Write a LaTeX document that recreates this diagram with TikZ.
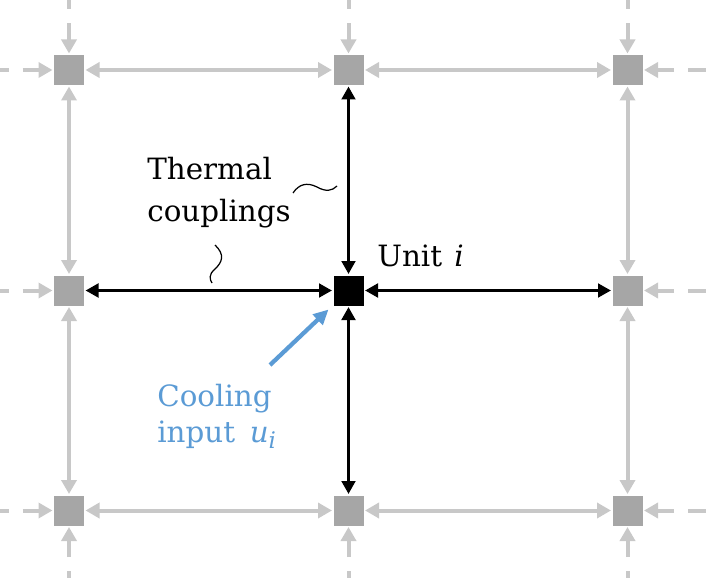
\documentclass[tikz,border=0pt]{standalone}
\usepackage{fontspec}
\setmainfont{DejaVu Serif}
\usepackage{tikz}
\usetikzlibrary{arrows.meta,positioning}
\usepackage{xcolor}
\definecolor{cellgray}{HTML}{A6A6A6}
\definecolor{linkgray}{HTML}{C8C8C8}
\definecolor{coolblue}{HTML}{5B9BD5}

\begin{document}
\begin{tikzpicture}[
    cell/.style={rectangle, fill=cellgray, minimum size=0.6cm, inner sep=0pt,
                 outer sep=0.03cm},
    unitcell/.style={cell, fill=black},
    graylink/.style={{Triangle[length=0.28cm,width=0.30cm]}-{Triangle[length=0.28cm,width=0.30cm]},
                     line width=0.08cm, color=linkgray},
    blacklink/.style={{Triangle[length=0.26cm,width=0.27cm]}-{Triangle[length=0.26cm,width=0.27cm]},
                      line width=0.075cm, color=black},
    stub/.style={-{Triangle[length=0.28cm,width=0.30cm]}, line width=0.08cm, color=linkgray,
                 dash pattern=on 0.36cm off 0.28cm on 2cm},
    coolarrow/.style={-{Triangle[length=0.30cm,width=0.28cm]}, line width=0.085cm, color=coolblue},
    lbl/.style={font=\fontsize{16.7}{23.9}\selectfont, inner sep=0pt},
    squiggle/.style={line width=0.7pt, color=black}
]
\useasboundingbox (0,0) rectangle (14.12,11.54);
\clip (0,0) rectangle (14.12,11.54);

%% ---- Grid cells ----
\node[cell]     (tl) at ( 1.38, 10.14) {};
\node[cell]     (tc) at ( 6.97, 10.14) {};
\node[cell]     (tr) at (12.55, 10.14) {};
\node[cell]     (ml) at ( 1.38,  5.73) {};
\node[unitcell] (unit) at ( 6.97,  5.73) {};
\node[cell]     (mr) at (12.55,  5.73) {};
\node[cell]     (bl) at ( 1.38,  1.33) {};
\node[cell]     (bc) at ( 6.97,  1.33) {};
\node[cell]     (br) at (12.55,  1.33) {};

%% ---- Couplings between neighbours ----
\draw[graylink] (tl)--(tc);
\draw[graylink] (tc)--(tr);
\draw[graylink] (bl)--(bc);
\draw[graylink] (bc)--(br);
\draw[graylink] (tl)--(ml);
\draw[graylink] (ml)--(bl);
\draw[graylink] (tr)--(mr);
\draw[graylink] (mr)--(br);

\draw[blacklink] (ml)--(unit);
\draw[blacklink] (unit)--(mr);
\draw[blacklink] (tc)--(unit);
\draw[blacklink] (unit)--(bc);

%% ---- Couplings from outside ----
\draw[stub] ([yshift=1.24cm]tl.north)--(tl.north);
\draw[stub] ([yshift=1.24cm]tc.north)--(tc.north);
\draw[stub] ([yshift=1.24cm]tr.north)--(tr.north);
\draw[stub] ([yshift=-1.24cm]bl.south)--(bl.south);
\draw[stub] ([yshift=-1.24cm]bc.south)--(bc.south);
\draw[stub] ([yshift=-1.24cm]br.south)--(br.south);
\draw[stub] ([xshift=-1.24cm]tl.west)--(tl.west);
\draw[stub] ([xshift=-1.24cm]ml.west)--(ml.west);
\draw[stub] ([xshift=-1.24cm]bl.west)--(bl.west);
\draw[stub] ([xshift=1.24cm]tr.east)--(tr.east);
\draw[stub] ([xshift=1.24cm]mr.east)--(mr.east);
\draw[stub] ([xshift=1.24cm]br.east)--(br.east);

%% ---- Labels ----
\node[lbl, anchor=base west, align=left] (thermal) at (2.94, 7.10) {Thermal\\couplings};
\node[lbl, anchor=base west] (unitlbl) at (7.54, 6.22) {Unit\hspace{0.42em}\textit{i}};
\node[lbl, anchor=base west, align=left, text=coolblue,
      font=\fontsize{16.7}{20.2}\selectfont] (cooling) at (3.14, 2.70)
      {Cooling\\input\hspace{0.5em}\textit{u}\textsubscript{\fontsize{13}{13}\selectfont\textit{i}}};

\draw[squiggle] (5.86,7.68) .. controls (5.98,7.86) and (6.14,7.90) .. (6.34,7.80)
                .. controls (6.52,7.70) and (6.64,7.72) .. (6.74,7.82);
\draw[squiggle] (4.30,6.64) .. controls (4.50,6.45) and (4.45,6.30) .. (4.30,6.16)
                .. controls (4.16,6.04) and (4.20,5.95) .. (4.24,5.88);

\coordinate (cooltail) at (5.40, 4.24);
\draw[coolarrow] (cooltail)--([shift={(-0.07,-0.05)}]unit.south west);

\end{tikzpicture}
\end{document}
